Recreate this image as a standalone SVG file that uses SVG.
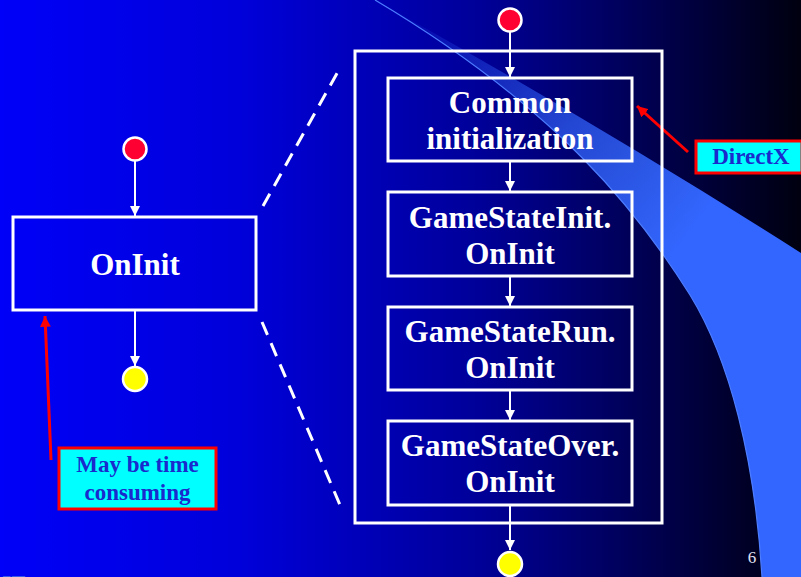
<svg xmlns="http://www.w3.org/2000/svg" width="801" height="577" viewBox="0 0 801 577">
  <defs>
    <linearGradient id="bg" x1="0" y1="0" x2="801" y2="0" gradientUnits="userSpaceOnUse">
      <stop offset="0" stop-color="#0000F8"/>
      <stop offset="0.3" stop-color="#0000DA"/>
      <stop offset="0.6" stop-color="#000098"/>
      <stop offset="1" stop-color="#000010"/>
    </linearGradient>
    <linearGradient id="swoosh" x1="420" y1="10" x2="700" y2="220" gradientUnits="userSpaceOnUse">
      <stop offset="0" stop-color="#3366FF" stop-opacity="0.08"/>
      <stop offset="0.55" stop-color="#3366FF" stop-opacity="0.7"/>
      <stop offset="1" stop-color="#3366FF"/>
    </linearGradient>
    <marker id="arrow" viewBox="0 0 10 10" refX="10" refY="5" markerWidth="5" markerHeight="5" orient="auto" markerUnits="strokeWidth">
      <path d="M0,0 L10,5 L0,10 z" fill="#FFFFFF"/>
    </marker>
    <marker id="redArrow" viewBox="0 0 10 10" refX="10" refY="5" markerWidth="3.6" markerHeight="3.6" orient="auto" markerUnits="strokeWidth">
      <path d="M0,0 L10,5 L0,10 z" fill="#FF0000"/>
    </marker>
    <style>
      .box { fill: none; stroke: #FFFFFF; stroke-width: 3; }
      .label { font-family: "Liberation Serif", "Times New Roman", serif; font-weight: bold; font-size: 31px; fill: #FFFFFF; text-anchor: middle; }
      .note { fill: #00FFFF; stroke: #FF0000; stroke-width: 3; }
      .noteText { font-family: "Liberation Serif", "Times New Roman", serif; font-weight: bold; font-size: 23px; fill: #1A2ACC; text-anchor: middle; }
      .flow { stroke: #FFFFFF; stroke-width: 2; fill: none; marker-end: url(#arrow); }
      .pointer { stroke: #FF0000; stroke-width: 3; fill: none; marker-end: url(#redArrow); }
      .dash { stroke: #FFFFFF; stroke-width: 3; stroke-dasharray: 14 9; fill: none; }
      .start { fill: #FF0033; stroke: #FFFFFF; stroke-width: 2.5; }
      .end { fill: #FFFF00; stroke: #FFFFFF; stroke-width: 2.5; }
    </style>
  </defs>

  <!-- background -->
  <rect x="0" y="0" width="801" height="577" fill="url(#bg)"/>

  <!-- light sweep across the right side -->
  <path d="M375,0 Q600,125 801,253 L801,577 L762,577 C755,460 730,360 690,295 C640,215 560,110 375,0 Z" fill="url(#swoosh)"/>
  <path d="M375,0 C560,110 640,215 690,295 C730,360 755,460 762,577" fill="none" stroke="#4D7DFF" stroke-width="1.2"/>

  <!-- connectors -->
  <g id="connectors">
    <line class="flow" x1="135" y1="161" x2="135" y2="216"/>
    <line class="flow" x1="135" y1="311" x2="135" y2="366"/>
    <line class="flow" x1="510" y1="32" x2="510" y2="77"/>
    <line class="flow" x1="510" y1="162" x2="510" y2="191"/>
    <line class="flow" x1="510" y1="277" x2="510" y2="306"/>
    <line class="flow" x1="510" y1="391" x2="510" y2="420"/>
    <line class="flow" x1="510" y1="506" x2="510" y2="550"/>
    <line class="dash" x1="263" y1="206" x2="340" y2="68"/>
    <line class="dash" x1="262" y1="322" x2="340" y2="505"/>
    <line class="pointer" x1="51" y1="460" x2="45" y2="316"/>
    <line class="pointer" x1="688" y1="152" x2="637" y2="106"/>
  </g>

  <!-- left: collapsed view -->
  <g id="start-left"><circle class="start" cx="135" cy="149" r="11.5"/></g>
  <g id="oninit">
    <rect class="box" x="13" y="217" width="243" height="93"/>
    <text class="label" x="135" y="275">OnInit</text>
  </g>
  <g id="end-left"><circle class="end" cx="135" cy="379" r="12"/></g>

  <g id="note-time">
    <rect class="note" x="59" y="448" width="157" height="61"/>
    <text class="noteText" x="137.5" y="472">May be time</text>
    <text class="noteText" x="137.5" y="500">consuming</text>
  </g>

  <!-- right: expanded view -->
  <g id="container"><rect class="box" x="355" y="51" width="307" height="472"/></g>
  <g id="start-right"><circle class="start" cx="510" cy="20" r="11.5"/></g>
  <g id="common-init">
    <rect class="box" x="388" y="78" width="244" height="83"/>
    <text class="label" x="510" y="113">Common</text>
    <text class="label" x="510" y="149">initialization</text>
  </g>
  <g id="gamestate-init">
    <rect class="box" x="388" y="192" width="244" height="84"/>
    <text class="label" x="510" y="228">GameStateInit.</text>
    <text class="label" x="510" y="264">OnInit</text>
  </g>
  <g id="gamestate-run">
    <rect class="box" x="388" y="307" width="244" height="83"/>
    <text class="label" x="510" y="342">GameStateRun.</text>
    <text class="label" x="510" y="378">OnInit</text>
  </g>
  <g id="gamestate-over">
    <rect class="box" x="388" y="421" width="244" height="84"/>
    <text class="label" x="510" y="456">GameStateOver.</text>
    <text class="label" x="510" y="492">OnInit</text>
  </g>
  <g id="end-right"><circle class="end" cx="510" cy="564" r="12"/></g>

  <g id="note-directx">
    <rect class="note" x="696" y="141" width="106" height="32"/>
    <text class="noteText" x="751" y="164">DirectX</text>
  </g>

  <!-- page number and footer -->
  <text x="752" y="563" font-family="Liberation Serif, serif" font-size="17" fill="#E0E0F0" text-anchor="middle">6</text>
  <text x="2" y="591" font-family="Liberation Serif, serif" font-weight="bold" font-size="24" fill="#3A5CE8">IE</text>
</svg>
